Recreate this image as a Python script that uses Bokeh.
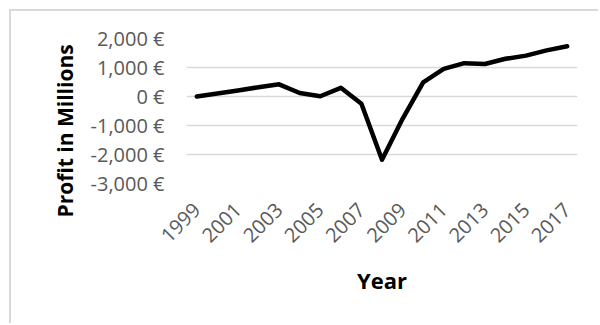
from bokeh.plotting import figure
from bokeh.models import Range1d, FixedTicker, Title
from bokeh.embed import file_html
from bokeh.resources import INLINE

years = list(range(1999, 2018))
profit = [0, 100, 210, 320, 420, 120, 10, 300, -250, -2180, -770, 490, 950, 1150, 1120, 1300, 1410, 1590, 1730]

y_ticks = [-3000, -2000, -1000, 0, 1000, 2000]
y_tick_labels = ["-3,000 €", "-2,000 €", "-1,000 €", "0 €", "1,000 €", "2,000 €"]
x_ticks = [1999, 2001, 2003, 2005, 2007, 2009, 2011, 2013, 2015, 2017]
x_tick_labels = [str(t) for t in x_ticks]

FONT = "Open Sans"

p = figure(width=589, height=314, output_backend="svg", toolbar_location=None,
           x_range=Range1d(1998.5, 2017.5), y_range=Range1d(-3000, 2000),
           min_border_left=175, min_border_right=23, min_border_top=27, min_border_bottom=142,
           margin=(9, 0, 0, 9))
p.styles = {"border-left": "2px solid #d9d9d9", "border-top": "2px solid #d9d9d9"}
p.outline_line_color = None
p.background_fill_color = "white"
p.border_fill_color = "white"

p.line(years, profit, line_color="black", line_width=4.5, line_join="round", line_cap="round")

p.xgrid.grid_line_color = None
p.ygrid.grid_line_color = "#d9d9d9"
p.ygrid.grid_line_width = 1.5
p.ygrid.ticker = FixedTicker(ticks=y_ticks)

p.yaxis.ticker = FixedTicker(ticks=y_ticks)
p.yaxis.major_label_overrides = dict(zip(y_ticks, y_tick_labels))
p.xaxis.ticker = FixedTicker(ticks=x_ticks)
p.xaxis.major_label_overrides = dict(zip(x_ticks, x_tick_labels))
p.xaxis.major_label_orientation = 0.785398

for ax in (p.xaxis, p.yaxis):
    ax.axis_line_color = None
    ax.major_tick_line_color = None
    ax.minor_tick_line_color = None
    ax.major_tick_in = 0
    ax.major_tick_out = 0
    ax.major_label_text_font = FONT
    ax.major_label_text_font_size = "20px"
    ax.major_label_text_color = "#595959"
    ax.axis_label_text_font = FONT
    ax.axis_label_text_font_style = "bold"
    ax.axis_label_text_font_size = "22px"
    ax.axis_label_text_color = "black"

ytitle = Title(text="Profit in Millions", align="left", offset=-34, standoff=18,
               text_font=FONT, text_font_style="bold", text_font_size="21px", text_color="black")
p.add_layout(ytitle, "left")

p.xaxis.axis_label = "Year"
p.yaxis.major_label_standoff = 22
p.xaxis.major_label_standoff = 23
p.xaxis.axis_label_standoff = 13

open("out.html", "w").write(file_html(p, INLINE))
